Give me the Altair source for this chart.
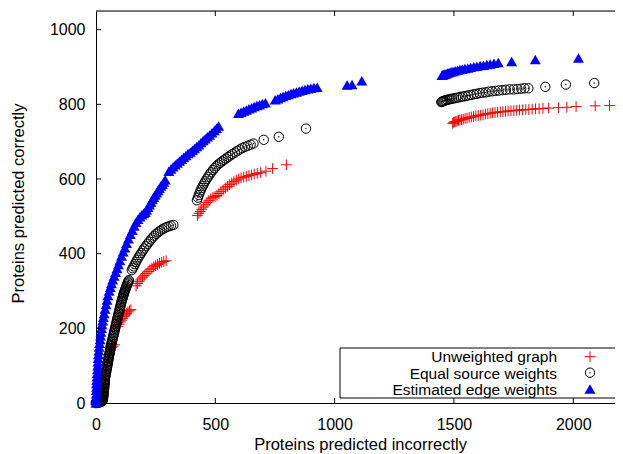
import altair as alt
import pandas as pd

series_names = ["Unweighted graph", "Equal source weights", "Estimated edge weights"]
x_tick_values = [0, 500, 1000, 1500, 2000]
y_tick_values = [0, 200, 400, 600, 800, 1000]
x_title = "Proteins predicted incorrectly"
y_title = "Proteins predicted correctly"

# Unweighted graph (red +)
unweighted_x = [0, 2, 5, 10, 15, 20, 25, 28, 30, 32, 34, 36, 38, 40, 42, 45, 48, 52, 56, 60, 66, 72, 78,
                92, 97, 102, 107, 112, 117, 122, 128, 134, 140, 146,
                168, 174, 181, 188, 195, 202, 210, 218, 226, 234, 242, 250, 258, 266, 275, 284, 294,
                425, 431, 437, 443, 450, 457, 465, 473, 481, 490, 499, 507, 515, 524, 533, 542, 551, 560,
                569, 578, 588, 598, 608, 619, 630, 641, 652, 663, 676, 690, 712, 740, 798,
                1495, 1499, 1503, 1508, 1513, 1519, 1525, 1532, 1539, 1547, 1555, 1564, 1573, 1582, 1592,
                1602, 1612, 1622, 1632, 1642, 1652, 1662, 1672, 1683, 1694, 1705, 1716, 1727, 1739, 1751,
                1763, 1775, 1788, 1801, 1814, 1828, 1842, 1857, 1873, 1897, 1938, 1973, 2012, 2092, 2152]
unweighted_y = [0, 2, 4, 5, 6, 8, 12, 20, 30, 40, 50, 60, 70, 80, 90, 100, 110, 120, 130, 140, 148, 152, 156,
                205, 211, 217, 222, 227, 232, 236, 240, 244, 247, 250,
                314, 320, 326, 332, 337, 342, 347, 352, 357, 361, 365, 368, 371, 374, 377, 379, 381,
                502, 508, 513, 519, 525, 531, 537, 542, 547, 551, 553, 556, 561, 566, 571, 576, 580, 585,
                589, 593, 597, 600, 603, 605, 607, 609, 611, 613, 615, 617, 621, 628, 638,
                749, 752, 753, 754, 755, 757, 758, 759, 760, 762, 763, 765, 766, 767, 769,
                770, 771, 772, 774, 775, 776, 777, 778, 779, 780, 780, 781, 782, 783, 783,
                784, 785, 785, 786, 786, 787, 788, 788, 789, 790, 791, 792, 794, 796, 797]

# Equal source weights (black circles)
equal_x = [0, 0, 2, 4, 6, 8, 10, 12, 14, 16, 18, 20, 22, 24, 26, 27, 28, 29, 29.5, 30, 30.5, 31, 31.5, 32,
           32.5, 33, 33.5, 34, 34.5, 35, 35.5, 36, 36.5, 37, 37.5, 38, 39, 40, 41, 42, 43, 44, 45, 46, 47,
           48, 49, 50, 51, 52, 53, 54, 55, 56, 57, 58, 59, 60, 61, 62, 63, 65, 66, 68, 69, 71, 72, 74, 75,
           77, 78, 80, 81, 83, 84, 86, 87, 89, 90, 92, 93, 95, 96, 98, 99, 101, 102, 104, 105, 107, 108,
           110, 111, 113, 114, 116, 117, 119, 120, 122, 124, 126, 128, 130, 132, 134, 136, 138,
           150, 154, 158, 163, 168, 173, 178, 184, 190, 196, 202, 209, 216, 223, 230, 237, 244, 252,
           260, 268, 277, 286, 295, 304, 314, 324,
           423, 427, 431, 435, 439, 443, 448, 453, 458, 464, 470, 476, 483, 490, 497, 504, 512, 520,
           528, 536, 545, 554, 563, 572, 582, 592, 602, 613, 624, 636, 648, 660,
           703, 766, 880,
           1447, 1450, 1453, 1457, 1461, 1466, 1472, 1478, 1485, 1492, 1500, 1509, 1518, 1528, 1538,
           1549, 1560, 1571, 1583, 1595, 1607, 1620, 1633, 1646, 1660, 1674, 1688, 1703, 1718, 1734,
           1750, 1766, 1782, 1796, 1812,
           1883, 1969, 2088]
equal_y = [0, 1, 1, 1, 1, 2, 2, 2, 3, 3, 3, 3, 4, 4, 5, 6, 8, 10, 13, 16, 19, 22, 25, 28,
           31, 34, 37, 40, 43, 47, 50, 54, 57, 61, 64, 68, 72, 75, 78, 82, 85, 89, 92, 96, 99,
           103, 106, 110, 113, 117, 120, 124, 127, 131, 134, 138, 141, 145, 148, 152, 155, 159, 163, 167, 171,
           175, 179, 183, 187, 191, 195, 199, 203, 207, 211, 215, 219, 223, 227, 231, 235, 239, 243,
           247, 251, 255, 259, 263, 267, 271, 274, 278, 281, 285, 288, 291, 294, 297, 300, 303, 306,
           310, 313, 317, 320, 323, 326, 329,
           356, 361, 366, 372, 378, 384, 390, 396, 402, 408, 414, 420, 426, 432, 438, 443, 448, 453,
           457, 461, 465, 468, 471, 473, 475, 477,
           543, 550, 557, 564, 570, 576, 582, 588, 594, 600, 606, 612, 618, 624, 629, 634, 639, 643,
           647, 651, 655, 659, 663, 667, 671, 675, 679, 683, 686, 689, 692, 695,
           705, 713, 735,
           806, 807, 808, 809, 810, 811, 812, 813, 814, 815, 816, 817, 818, 820, 821,
           822, 824, 825, 827, 828, 830, 831, 832, 834, 835, 836, 837, 838, 839, 840,
           840, 841, 842, 843, 843,
           847, 853, 857]

# Estimated edge weights (blue triangles)
estimated_x = [0, 0, 0, 1, 1, 2, 2, 3, 4, 5, 6, 7, 8, 9, 10, 12, 13, 15, 17, 19, 21, 23, 25, 28, 31, 34,
               38, 42, 46, 50, 55, 60, 65, 70, 76, 82, 88, 94, 100, 107, 114, 121, 128, 136, 144, 152,
               160, 168, 176, 184, 192, 200, 206,
               212, 218, 224, 230, 236, 242, 248, 254, 260, 266, 272, 278, 284, 290,
               305, 314, 323, 332, 341, 350, 359, 368, 377, 386, 395, 404, 413, 422, 431, 440, 449, 458,
               467, 476, 486, 496, 505, 514,
               597, 608, 619, 630, 641, 652, 663, 674, 685, 697, 710,
               751, 762, 773, 784, 795, 806, 817, 828, 840, 852, 864, 876, 888, 900, 913, 927,
               1052, 1073, 1114,
               1450, 1453, 1457, 1462, 1467, 1473, 1480, 1488, 1496, 1505, 1515, 1525, 1535, 1546, 1558,
               1570, 1583, 1596, 1610, 1624, 1638, 1652, 1668, 1686,
               1742, 1841, 2022]
estimated_y = [0, 8, 16, 25, 34, 43, 52, 61, 70, 80, 90, 100, 110, 120, 130, 140, 150, 160, 170, 180, 190,
               200, 210, 220, 230, 240, 252, 264, 276, 288, 300, 310, 320, 330, 340, 350, 360, 371, 382,
               394, 405, 416, 428, 440, 452, 463, 474, 484, 492, 499, 504, 508, 511,
               517, 524, 531, 538, 545, 551, 557, 563, 569, 575, 581, 586, 592, 598,
               621, 627, 633, 638, 643, 648, 653, 658, 663, 668, 672, 677, 682, 687, 692, 698, 703, 708,
               713, 718, 724, 730, 736, 742,
               776, 779, 782, 785, 788, 791, 794, 797, 799, 802, 804,
               812, 815, 818, 821, 824, 826, 829, 831, 833, 836, 838, 840, 842, 843, 845, 846,
               852, 853, 863,
               878, 879, 880, 881, 882, 884, 885, 887, 888, 890, 891, 893, 894, 896, 897,
               899, 901, 902, 904, 905, 907, 908, 910, 912,
               915, 920, 924]

# plot area: 519 px wide for 0..2175 (keeps the page within the 607 px body width)
W, H = 519, 392
FONT = "Liberation Sans"
LABEL_FS = 16
TEXT_FS = 16.5
LEGEND_FS = 15.5
xs = alt.Scale(domain=[0, 2175], nice=False, zero=False)
ys = alt.Scale(domain=[0, 1050], nice=False, zero=False)

x_axis = alt.Axis(values=x_tick_values, title=x_title, grid=False, ticks=False, tickSize=0,
                  domain=True, domainColor="black", domainWidth=1, labelPadding=26,
                  labelBaseline="alphabetic", labelFlush=False, labelOverlap=False, format="d",
                  labelFont=FONT, labelFontSize=LABEL_FS, labelColor="black",
                  titleFont=FONT, titleFontSize=TEXT_FS, titleFontWeight="normal", titleColor="black",
                  titleBaseline="alphabetic", titleY=46, titleX=264)
y_axis = alt.Axis(values=y_tick_values, title=y_title, grid=False, ticks=False, tickSize=0,
                  domain=True, domainColor="black", domainWidth=1, labelPadding=11,
                  labelBaseline="middle", labelFlush=False, labelOverlap=False, format="d",
                  labelFont=FONT, labelFontSize=LABEL_FS, labelColor="black",
                  titleFont=FONT, titleFontSize=TEXT_FS, titleFontWeight="normal", titleColor="black",
                  titleBaseline="alphabetic", titleAngle=270, titleX=-73, titleY=192)

df_u = pd.DataFrame({"x": unweighted_x, "y": unweighted_y})
df_e = pd.DataFrame({"x": equal_x, "y": equal_y})
df_w = pd.DataFrame({"x": estimated_x, "y": estimated_y})

PLUS = "M-1,0L1,0M0,-1L0,1"

red = alt.Chart(df_u).mark_point(shape=PLUS, size=115, filled=False, color="#ff0000",
                                 strokeWidth=1, opacity=1, clip=False).encode(
    x=alt.X("x:Q", scale=xs, axis=x_axis), y=alt.Y("y:Q", scale=ys, axis=y_axis))
black = alt.Chart(df_e).mark_point(shape="circle", size=88, filled=False, color="black",
                                   strokeWidth=1, opacity=1, clip=False).encode(
    x=alt.X("x:Q", scale=xs, axis=x_axis), y=alt.Y("y:Q", scale=ys, axis=y_axis))
dots = alt.Chart(df_e).mark_point(shape="circle", size=2, filled=True, color="black",
                                  opacity=1, clip=False).encode(
    x=alt.X("x:Q", scale=xs, axis=x_axis), y=alt.Y("y:Q", scale=ys, axis=y_axis))
blue = alt.Chart(df_w).mark_point(shape="triangle-up", size=120, filled=True, color="#0000ff",
                                  opacity=1, strokeWidth=0, clip=False).encode(
    x=alt.X("x:Q", scale=xs, axis=x_axis), y=alt.Y("y:Q", scale=ys, axis=y_axis))

one = pd.DataFrame({"a": [0]})
top_line = alt.Chart(one).mark_rule(color="black", strokeWidth=1).encode(
    x=alt.value(0), x2=alt.value(W + 10), y=alt.value(0))

xt = pd.DataFrame({"x": x_tick_values[1:]})
yt = pd.DataFrame({"y": y_tick_values[1:]})
bottom_ticks = alt.Chart(xt).mark_rule(color="black", strokeWidth=1).encode(
    x=alt.X("x:Q", scale=xs, axis=x_axis), y=alt.value(H), y2=alt.value(H - 5))
top_ticks = alt.Chart(xt).mark_rule(color="black", strokeWidth=1).encode(
    x=alt.X("x:Q", scale=xs, axis=x_axis), y=alt.value(0), y2=alt.value(5))
left_ticks = alt.Chart(yt).mark_rule(color="black", strokeWidth=1).encode(
    y=alt.Y("y:Q", scale=ys, axis=y_axis), x=alt.value(0), x2=alt.value(5))

legend_box = alt.Chart(one).mark_rect(fill="white", stroke="black", strokeWidth=1).encode(
    x=alt.value(244), x2=alt.value(W + 30), y=alt.value(337), y2=alt.value(387))

legend_layers = []
sym_specs = [
    dict(shape=PLUS, size=115, filled=False, color="#ff0000", strokeWidth=1),
    dict(shape="circle", size=88, filled=False, color="black", strokeWidth=1),
    dict(shape="triangle-up", size=120, filled=True, color="#0000ff", strokeWidth=0),
]
sym_y = [345.7, 361.7, 378]
text_y = [346, 362.5, 379]
for name, spec, sy, ty in zip(series_names, sym_specs, sym_y, text_y):
    lab = pd.DataFrame({"label": [name]})
    legend_layers.append(alt.Chart(lab).mark_text(align="right", baseline="middle", font=FONT,
                                                  fontSize=LEGEND_FS, color="black").encode(
        text="label:N", x=alt.value(461), y=alt.value(ty)))
    legend_layers.append(alt.Chart(lab).mark_point(opacity=1, **spec).encode(
        x=alt.value(494), y=alt.value(sy)))
legend_layers.append(alt.Chart(one).mark_point(shape="circle", size=2, filled=True, color="black",
                                               opacity=1).encode(x=alt.value(494), y=alt.value(sym_y[1])))

chart = alt.layer(red, black, dots, blue, top_line, bottom_ticks, top_ticks, left_ticks,
                  legend_box, *legend_layers).properties(
    width=W, height=H,
    padding={"left": 88, "top": 3, "right": 0, "bottom": 51},
    autosize=alt.AutoSizeParams(type="none"),
).configure_view(strokeWidth=0).configure(background="white")

chart.save("out.html", embed_options={"renderer": "svg", "actions": False})
